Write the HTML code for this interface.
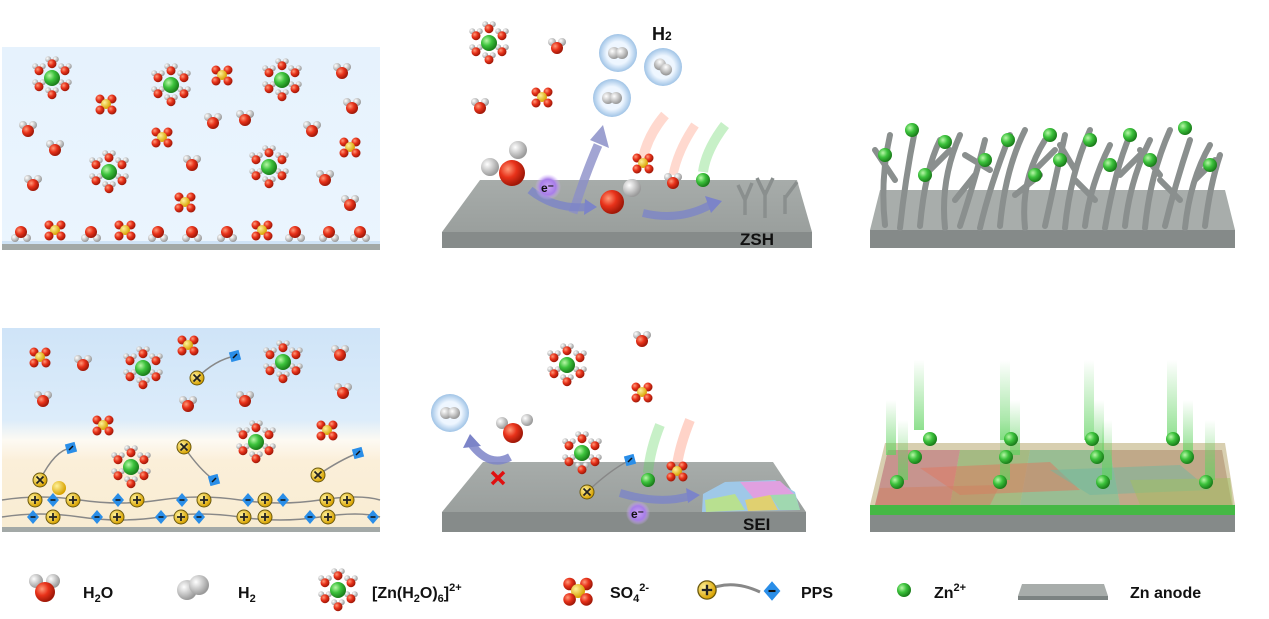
<!DOCTYPE html>
<html><head><meta charset="utf-8"><style>
html,body{margin:0;padding:0;background:#fff;width:1269px;height:619px;overflow:hidden}
svg{display:block}
text{font-family:"Liberation Sans",sans-serif;font-weight:bold;fill:#111}
</style></head><body>
<svg width="1269" height="619" viewBox="0 0 1269 619" xmlns="http://www.w3.org/2000/svg">
<defs>
<radialGradient id="rd" cx="35%" cy="35%" r="65%"><stop offset="0" stop-color="#ff9a7a"/><stop offset=".5" stop-color="#e8321a"/><stop offset="1" stop-color="#a01808"/></radialGradient>
<radialGradient id="wh" cx="35%" cy="35%" r="65%"><stop offset="0" stop-color="#fff"/><stop offset="1" stop-color="#9a9a9a"/></radialGradient>
<radialGradient id="gr" cx="35%" cy="35%" r="65%"><stop offset="0" stop-color="#b8f7a8"/><stop offset=".5" stop-color="#3cc23c"/><stop offset="1" stop-color="#1b7f1b"/></radialGradient>
<radialGradient id="ye" cx="35%" cy="35%" r="65%"><stop offset="0" stop-color="#fff29a"/><stop offset="1" stop-color="#d8a200"/></radialGradient>
<radialGradient id="bub" cx="50%" cy="50%" r="50%"><stop offset=".6" stop-color="#eef6ff"/><stop offset="1" stop-color="#9fc3e6"/></radialGradient>
<radialGradient id="pu" cx="50%" cy="50%" r="50%"><stop offset="0" stop-color="#c9a3f5"/><stop offset=".6" stop-color="#a77de8"/><stop offset="1" stop-color="#d9b8ff" stop-opacity="0"/></radialGradient>
<linearGradient id="bg1" x1="0" y1="0" x2="0" y2="1"><stop offset="0" stop-color="#e6f2fd"/><stop offset="1" stop-color="#ebf5fe"/></linearGradient>
<linearGradient id="bg2" x1="0" y1="0" x2="0" y2="1"><stop offset="0" stop-color="#cfe4f8"/><stop offset=".45" stop-color="#dcecfa"/><stop offset=".55" stop-color="#fdfaf3"/><stop offset=".65" stop-color="#fbefd9"/><stop offset="1" stop-color="#f8ecd2"/></linearGradient>
<linearGradient id="beam" x1="0" y1="0" x2="0" y2="1"><stop offset="0" stop-color="#5ed35e" stop-opacity="0"/><stop offset="1" stop-color="#5ed35e" stop-opacity=".7"/></linearGradient>
<linearGradient id="slabtop" x1="0" y1="0" x2="0" y2="1"><stop offset="0" stop-color="#a7acaa"/><stop offset="1" stop-color="#9a9f9d"/></linearGradient>
<g id="w"><circle cx="-5" cy="-5" r="4" fill="url(#wh)"/><circle cx="5" cy="-5" r="4" fill="url(#wh)"/><circle cx="0" cy="1" r="6" fill="url(#rd)"/></g>
<g id="wb"><circle cx="-6" cy="4" r="4" fill="url(#wh)"/><circle cx="6" cy="4" r="4" fill="url(#wh)"/><circle cx="0" cy="-2" r="6" fill="url(#rd)"/></g>
<g id="s"><circle cx="-6" cy="-5" r="4.5" fill="url(#rd)"/><circle cx="6" cy="-5" r="4.5" fill="url(#rd)"/><circle cx="0" cy="0" r="5" fill="url(#ye)"/><circle cx="-6" cy="6" r="4.5" fill="url(#rd)"/><circle cx="6" cy="6" r="4.5" fill="url(#rd)"/></g>
<g id="z"><use href="#w" transform="translate(0,-15) scale(.75)"/><use href="#w" transform="translate(13,-8) scale(.75)"/><use href="#w" transform="translate(13,8) scale(.75)"/><use href="#w" transform="translate(0,16) scale(.75)"/><use href="#w" transform="translate(-13,8) scale(.75)"/><use href="#w" transform="translate(-13,-8) scale(.75)"/><circle r="8" fill="url(#gr)"/></g>
<g id="zn"><circle r="7" fill="url(#gr)"/></g>
<g id="plus"><circle r="7" fill="url(#ye)" stroke="#6b5a10" stroke-width="1"/><path d="M-4 0H4M0 -4V4" stroke="#222" stroke-width="1.8"/></g>
<g id="xm"><circle r="7" fill="url(#ye)" stroke="#6b5a10" stroke-width="1"/><path d="M-3.5 -3.5L3.5 3.5M3.5 -3.5L-3.5 3.5" stroke="#222" stroke-width="1.8"/></g>
<g id="dia"><path d="M0 -7L6 0L0 7L-6 0Z" fill="#2a8ee8"/><path d="M-2.5 0H2.5" stroke="#111" stroke-width="1.5"/></g>
<g id="sq"><rect x="-5" y="-5" width="10" height="10" fill="#2a8ee8" transform="rotate(-15)"/><path d="M-2 2L2 -2" stroke="#111" stroke-width="1.5"/></g>
<g id="h2"><circle cx="-4" r="6" fill="url(#wh)"/><circle cx="4" r="6" fill="url(#wh)"/></g>
</defs>

<!-- Panel 1 -->
<rect x="2" y="47" width="378" height="203" fill="url(#bg1)"/>
<rect x="2" y="241" width="378" height="3" fill="#cfe3f6"/>
<rect x="2" y="244" width="378" height="6" fill="#a3a9a7"/>
<use href="#z" x="52" y="78"/><use href="#z" x="171" y="85"/><use href="#z" x="282" y="80"/><use href="#z" x="109" y="172"/><use href="#z" x="269" y="167"/>
<use href="#s" x="106" y="104"/><use href="#s" x="222" y="75"/><use href="#s" x="162" y="137"/><use href="#s" x="350" y="147"/><use href="#s" x="185" y="202"/>
<use href="#w" x="342" y="72"/><use href="#w" x="352" y="107"/><use href="#w" x="28" y="130"/><use href="#w" x="55" y="149"/><use href="#w" x="213" y="122"/><use href="#w" x="245" y="119"/><use href="#w" x="312" y="130"/><use href="#w" x="192" y="164"/><use href="#w" x="33" y="184"/><use href="#w" x="325" y="179"/><use href="#w" x="350" y="204"/>
<use href="#wb" x="21" y="234"/><use href="#wb" x="91" y="234"/><use href="#wb" x="158" y="234"/><use href="#wb" x="192" y="234"/><use href="#wb" x="227" y="234"/><use href="#wb" x="295" y="234"/><use href="#wb" x="329" y="234"/><use href="#wb" x="360" y="234"/>
<use href="#s" x="55" y="230"/><use href="#s" x="125" y="230"/><use href="#s" x="262" y="230"/>

<!-- Panel 4 -->
<rect x="2" y="328" width="378" height="204" fill="url(#bg2)"/>
<rect x="2" y="527" width="378" height="5" fill="#a3a9a7"/>
<use href="#s" x="40" y="357"/><use href="#s" x="188" y="345"/><use href="#s" x="103" y="425"/><use href="#s" x="327" y="430"/>
<use href="#w" x="83" y="364"/><use href="#w" x="43" y="400"/><use href="#w" x="188" y="405"/><use href="#w" x="245" y="400"/><use href="#w" x="340" y="354"/><use href="#w" x="343" y="392"/>
<use href="#z" x="143" y="368"/><use href="#z" x="283" y="362"/><use href="#z" x="131" y="467"/><use href="#z" x="256" y="442"/>
<path d="M197 378 Q215 360 235 356" stroke="#888" stroke-width="1.5" fill="none"/><use href="#xm" x="197" y="378"/><use href="#sq" x="235" y="356"/>
<path d="M40 480 Q55 450 71 448" stroke="#888" stroke-width="1.5" fill="none"/><use href="#xm" x="40" y="480"/><use href="#sq" x="71" y="448"/>
<path d="M184 447 Q200 470 214 480" stroke="#888" stroke-width="1.5" fill="none"/><use href="#xm" x="184" y="447"/><use href="#sq" x="214" y="480"/>
<path d="M318 475 Q340 460 358 453" stroke="#888" stroke-width="1.5" fill="none"/><use href="#xm" x="318" y="475"/><use href="#sq" x="358" y="453"/>
<circle cx="59" cy="488" r="7" fill="url(#ye)"/>
<path d="M2 500 Q40 494 80 500 T160 500 T240 500 T320 500 T380 500 M2 517 Q40 511 80 517 T160 517 T240 517 T320 517 T380 517" stroke="#888" stroke-width="1.5" fill="none"/>
<use href="#plus" x="35" y="500"/><use href="#plus" x="73" y="500"/><use href="#plus" x="137" y="500"/><use href="#plus" x="204" y="500"/><use href="#plus" x="265" y="500"/><use href="#plus" x="327" y="500"/><use href="#plus" x="347" y="500"/>
<use href="#dia" x="53" y="500"/><use href="#dia" x="118" y="500"/><use href="#dia" x="182" y="500"/><use href="#dia" x="248" y="500"/><use href="#dia" x="283" y="500"/>
<use href="#dia" x="33" y="517"/><use href="#dia" x="97" y="517"/><use href="#dia" x="161" y="517"/><use href="#dia" x="199" y="517"/><use href="#dia" x="310" y="517"/><use href="#dia" x="373" y="517"/>
<use href="#plus" x="53" y="517"/><use href="#plus" x="117" y="517"/><use href="#plus" x="181" y="517"/><use href="#plus" x="244" y="517"/><use href="#plus" x="265" y="517"/><use href="#plus" x="328" y="517"/>

<!-- Panel 2 -->
<polygon points="480,180 797,180 812,232 442,232" fill="url(#slabtop)"/>
<rect x="442" y="232" width="370" height="16" fill="#868b8a"/>
<text x="740" y="245" font-size="17">ZSH</text>
<use href="#z" x="489" y="43"/><use href="#w" x="557" y="47"/><use href="#w" x="480" y="107"/><use href="#s" x="542" y="97"/>
<circle cx="618" cy="53" r="19" fill="url(#bub)"/><use href="#h2" x="618" y="53"/>
<circle cx="663" cy="67" r="19" fill="url(#bub)"/><use href="#h2" x="663" y="67" transform="rotate(40 663 67)"/>
<circle cx="612" cy="98" r="19" fill="url(#bub)"/><use href="#h2" x="612" y="98"/>
<text x="652" y="40" font-size="18" font-weight="normal">H<tspan font-size="12">2</tspan></text>
<path d="M573 213 Q585 175 598 145" stroke="#8b8fc8" stroke-width="9" fill="none" opacity=".8"/>
<path d="M590 140 L603 125 L609 148 Z" fill="#8b8fc8" opacity=".85"/>
<path d="M530 190 Q555 210 588 207" stroke="#7c84c8" stroke-width="8" fill="none" opacity=".8"/>
<path d="M585 199 L597 207 L584 215 Z" fill="#7c84c8"/>
<path d="M643 213 Q680 222 712 204" stroke="#7c84c8" stroke-width="8" fill="none" opacity=".8"/>
<path d="M705 196 L722 201 L711 213 Z" fill="#7c84c8"/>
<circle cx="490" cy="167" r="9" fill="url(#wh)"/><circle cx="518" cy="150" r="9" fill="url(#wh)"/><circle cx="512" cy="173" r="13" fill="url(#rd)"/>
<circle cx="548" cy="187" r="13" fill="url(#pu)"/><text x="541" y="192" font-size="12" fill="#333">e⁻</text>
<circle cx="632" cy="188" r="9" fill="url(#wh)"/><circle cx="612" cy="202" r="12" fill="url(#rd)"/>
<path d="M665 115 Q648 135 643 158" stroke="#ff8060" stroke-width="10" opacity=".3" fill="none"/>
<use href="#s" x="643" y="163"/>
<path d="M695 125 Q678 150 673 175" stroke="#ff8060" stroke-width="9" opacity=".3" fill="none"/>
<use href="#w" x="673" y="182"/>
<path d="M725 125 Q706 150 703 172" stroke="#5ed35e" stroke-width="10" opacity=".35" fill="none"/>
<use href="#zn" x="703" y="180"/>
<path d="M745 215 V195 M745 200 L738 185 M745 200 L752 183 M765 218 V190 M765 195 L757 178 M765 195 L773 178 M785 214 V195 M785 198 L797 182" stroke="#8a8f8e" stroke-width="3.5" fill="none"/>

<!-- Panel 3 -->
<polygon points="880,190 1225,190 1235,230 870,230" fill="#a8adab"/>
<rect x="870" y="230" width="365" height="18" fill="#858a89"/>
<g stroke="#8a8f8e" stroke-width="6" fill="none" stroke-linecap="round">
<path d="M885 225 Q880 180 890 135 M900 228 Q905 180 915 130 M920 226 Q925 170 940 140 M945 228 Q940 180 960 135 M960 226 Q975 180 985 140 M980 228 Q990 185 1010 135 M1000 226 Q1005 170 1025 130 M1025 228 Q1020 180 1045 140 M1045 226 Q1055 180 1065 135 M1065 228 Q1070 175 1090 130 M1085 226 Q1090 185 1110 145 M1105 228 Q1115 170 1130 135 M1125 226 Q1130 180 1150 140 M1145 228 Q1150 175 1170 130 M1165 226 Q1175 185 1190 140 M1185 228 Q1190 180 1210 145 M1205 226 Q1210 185 1220 155"/>
<path d="M895 180 L875 150 M930 170 L950 150 M990 170 L965 155 M1035 170 L1055 150 M1075 170 L1060 145 M1120 175 L1140 155 M1160 175 L1140 150 M1195 180 L1215 160 M955 200 L975 175 M1095 200 L1075 180 M1180 200 L1160 180 M1015 195 L1040 175"/>
</g>
<g><use href="#zn" x="912" y="130"/><use href="#zn" x="885" y="155"/><use href="#zn" x="945" y="142"/><use href="#zn" x="985" y="160"/><use href="#zn" x="1008" y="140"/><use href="#zn" x="1050" y="135"/><use href="#zn" x="1060" y="160"/><use href="#zn" x="1090" y="140"/><use href="#zn" x="1110" y="165"/><use href="#zn" x="1130" y="135"/><use href="#zn" x="1150" y="160"/><use href="#zn" x="1185" y="128"/><use href="#zn" x="1210" y="165"/><use href="#zn" x="925" y="175"/><use href="#zn" x="1035" y="175"/></g>

<!-- Panel 5 -->
<polygon points="483,462 773,462 806,512 442,512" fill="url(#slabtop)"/>
<rect x="442" y="512" width="364" height="20" fill="#868b8a"/>
<polygon points="703,494 725,482 775,480 795,492 800,510 702,512" fill="#9fc8e8"/>
<polygon points="740,482 780,481 795,495 755,500" fill="#e0a0e0"/>
<polygon points="705,500 735,494 745,510 706,512" fill="#b8e090"/>
<polygon points="745,500 770,495 778,510 748,511" fill="#e0d070"/>
<polygon points="770,495 795,494 800,510 780,510" fill="#a0d8b0"/>
<text x="743" y="530" font-size="17">SEI</text>
<use href="#z" x="567" y="365"/><use href="#w" x="642" y="340"/><use href="#s" x="642" y="392"/><use href="#z" x="582" y="453"/>
<circle cx="450" cy="413" r="19" fill="url(#bub)"/><use href="#h2" x="450" y="413"/>
<circle cx="502" cy="423" r="6" fill="url(#wh)"/><circle cx="527" cy="420" r="6" fill="url(#wh)"/><circle cx="513" cy="433" r="10" fill="url(#rd)"/>
<path d="M510 457 Q490 468 472 445" stroke="#7c84c8" stroke-width="8" fill="none" opacity=".85"/>
<path d="M463 448 L470 434 L481 446 Z" fill="#7c84c8"/>
<path d="M492 472 L504 484 M504 472 L492 484" stroke="#e01010" stroke-width="3.5"/>
<path d="M587 492 Q610 470 630 460" stroke="#888" stroke-width="1.5" fill="none"/><use href="#xm" x="587" y="492"/><use href="#sq" x="630" y="460"/>
<path d="M660 425 Q650 450 648 473" stroke="#5ed35e" stroke-width="10" opacity=".35" fill="none"/><use href="#zn" x="648" y="480"/>
<path d="M690 420 Q680 445 677 465" stroke="#ff8060" stroke-width="10" opacity=".35" fill="none"/><use href="#s" x="677" y="471"/>
<path d="M620 493 Q660 505 690 496" stroke="#7c84c8" stroke-width="8" fill="none" opacity=".8"/>
<path d="M686 488 L700 495 L688 503 Z" fill="#7c84c8"/>
<circle cx="638" cy="513" r="12" fill="url(#pu)"/><text x="631" y="518" font-size="12" fill="#333">e⁻</text>

<!-- Panel 6 -->
<rect x="870" y="515" width="365" height="17" fill="#858a89"/>
<rect x="870" y="505" width="365" height="10" fill="#45b845"/>
<polygon points="885,443 1225,443 1235,505 870,505" fill="#d8cfb0"/>
<polygon points="888,450 960,450 950,505 875,505" fill="#c07a80" opacity=".7"/>
<polygon points="960,450 1030,450 1020,505 950,505" fill="#90b070" opacity=".7"/>
<polygon points="1030,450 1110,450 1120,505 1020,505" fill="#70b080" opacity=".6"/>
<polygon points="1110,450 1222,450 1232,505 1120,505" fill="#b09070" opacity=".6"/>
<polygon points="920,468 1050,462 1080,490 960,495" fill="#e07860" opacity=".5"/>
<polygon points="1050,470 1180,465 1210,490 1090,495" fill="#70b8a0" opacity=".5"/>
<polygon points="880,488 1000,485 990,505 875,505" fill="#d08060" opacity=".5"/>
<polygon points="1130,480 1230,478 1233,505 1140,505" fill="#a0c060" opacity=".5"/>
<g>
<rect x="886" y="400" width="10" height="55" fill="url(#beam)"/><rect x="914" y="360" width="10" height="70" fill="url(#beam)"/><rect x="898" y="420" width="10" height="60" fill="url(#beam)"/>
<rect x="1000" y="360" width="10" height="80" fill="url(#beam)"/><rect x="1010" y="400" width="10" height="55" fill="url(#beam)"/><rect x="1000" y="420" width="10" height="60" fill="url(#beam)"/>
<rect x="1084" y="360" width="10" height="80" fill="url(#beam)"/><rect x="1094" y="400" width="10" height="55" fill="url(#beam)"/><rect x="1102" y="420" width="10" height="60" fill="url(#beam)"/>
<rect x="1167" y="360" width="10" height="80" fill="url(#beam)"/><rect x="1183" y="400" width="10" height="55" fill="url(#beam)"/><rect x="1205" y="420" width="10" height="60" fill="url(#beam)"/>
</g>
<use href="#zn" x="930" y="439"/><use href="#zn" x="1011" y="439"/><use href="#zn" x="1092" y="439"/><use href="#zn" x="1173" y="439"/>
<use href="#zn" x="915" y="457"/><use href="#zn" x="1006" y="457"/><use href="#zn" x="1097" y="457"/><use href="#zn" x="1187" y="457"/>
<use href="#zn" x="897" y="482"/><use href="#zn" x="1000" y="482"/><use href="#zn" x="1103" y="482"/><use href="#zn" x="1206" y="482"/>

<!-- Legend -->
<circle cx="36" cy="581" r="7" fill="url(#wh)"/><circle cx="53" cy="581" r="7" fill="url(#wh)"/><circle cx="45" cy="592" r="10" fill="url(#rd)"/>
<text x="83" y="598" font-size="16">H<tspan font-size="11" dy="4">2</tspan><tspan dy="-4">O</tspan></text>
<circle cx="187" cy="590" r="10" fill="url(#wh)"/><circle cx="199" cy="585" r="10" fill="url(#wh)"/>
<text x="238" y="598" font-size="16">H<tspan font-size="11" dy="4">2</tspan></text>
<use href="#z" x="338" y="590"/>
<text x="372" y="598" font-size="16">[Zn(H<tspan font-size="11" dy="4">2</tspan><tspan dy="-4">O)</tspan><tspan font-size="11" dy="4">6</tspan><tspan dy="-4">]</tspan><tspan font-size="11" dy="-7">2+</tspan></text>
<g transform="translate(578,591) scale(1.4)"><use href="#s"/></g>
<text x="610" y="598" font-size="16">SO<tspan font-size="11" dy="4">4</tspan><tspan font-size="11" dy="-11">2-</tspan></text>
<path d="M706 591 Q730 578 760 592" stroke="#888" stroke-width="3" fill="none"/>
<g transform="translate(707,590) scale(1.3)"><use href="#plus"/></g>
<g transform="translate(772,591) scale(1.4)"><use href="#dia"/></g>
<text x="801" y="598" font-size="16">PPS</text>
<use href="#zn" x="904" y="590"/>
<text x="934" y="598" font-size="16">Zn<tspan font-size="11" dy="-7">2+</tspan></text>
<polygon points="1022,584 1104,584 1108,596 1018,596" fill="#a8adab"/><rect x="1018" y="596" width="90" height="4" fill="#7c8382"/>
<text x="1130" y="598" font-size="16">Zn anode</text>
</svg>
</body></html>
